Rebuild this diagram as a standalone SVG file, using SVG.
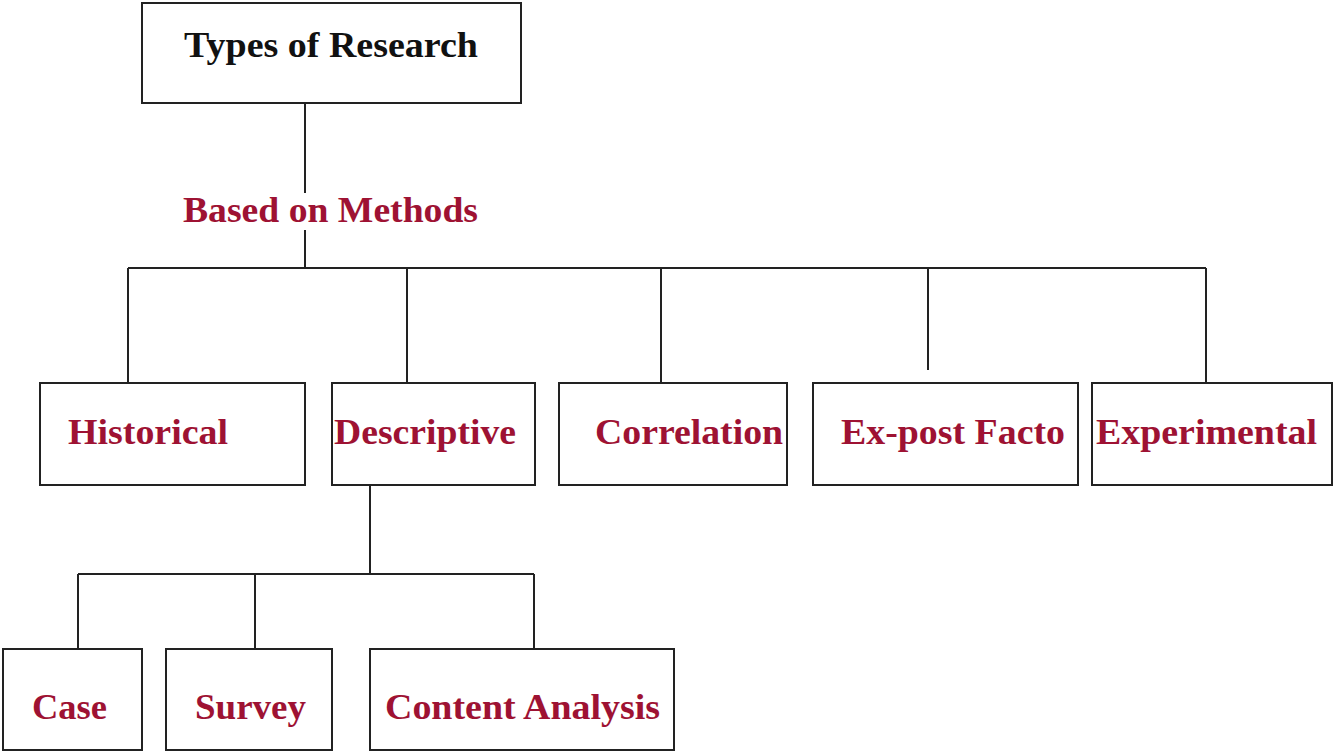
<svg xmlns="http://www.w3.org/2000/svg" width="1333" height="752" viewBox="0 0 1333 752">
<style>
.box{fill:#fff;stroke:#222;stroke-width:2}
.ln{fill:none;stroke:#222;stroke-width:2}
.t{font-family:"Liberation Serif","Times New Roman",serif;font-weight:bold;font-size:36px}
.red{fill:#9e1233}
.blk{fill:#111}
</style>
<rect width="1333" height="752" fill="#fff"/>
<g id="connectors">
<path class="ln" d="M305 103V193M305 230V268M128 268H1206M128 268V383M407 268V383M661 268V383M928 268V370M1206 268V383"/>
<path class="ln" d="M370 486V574M78 574H534M78 574V649M255 574V649M534 574V649"/>
</g>
<g id="types">
<rect class="box" x="142" y="3" width="379" height="100"/>
<text class="t blk" x="184" y="57" textLength="294" lengthAdjust="spacingAndGlyphs">Types of Research</text>
</g>
<g id="based">
<text class="t red" x="183" y="222" textLength="295" lengthAdjust="spacingAndGlyphs">Based on Methods</text>
</g>
<g id="historical">
<rect class="box" x="40" y="383" width="265" height="102"/>
<text class="t red" x="68" y="444" textLength="160" lengthAdjust="spacingAndGlyphs">Historical</text>
</g>
<g id="descriptive">
<rect class="box" x="332" y="383" width="203" height="102"/>
<text class="t red" x="334" y="444" textLength="182" lengthAdjust="spacingAndGlyphs">Descriptive</text>
</g>
<g id="correlation">
<rect class="box" x="559" y="383" width="228" height="102"/>
<text class="t red" x="595" y="444" textLength="188" lengthAdjust="spacingAndGlyphs">Correlation</text>
</g>
<g id="expost">
<rect class="box" x="813" y="383" width="265" height="102"/>
<text class="t red" x="841" y="444" textLength="224" lengthAdjust="spacingAndGlyphs">Ex-post Facto</text>
</g>
<g id="experimental">
<rect class="box" x="1092" y="383" width="240" height="102"/>
<text class="t red" x="1096" y="444" textLength="221" lengthAdjust="spacingAndGlyphs">Experimental</text>
</g>
<g id="case">
<rect class="box" x="3" y="649" width="139" height="101"/>
<text class="t red" x="32" y="719" textLength="75" lengthAdjust="spacingAndGlyphs">Case</text>
</g>
<g id="survey">
<rect class="box" x="166" y="649" width="166" height="101"/>
<text class="t red" x="195" y="719" textLength="111" lengthAdjust="spacingAndGlyphs">Survey</text>
</g>
<g id="content">
<rect class="box" x="370" y="649" width="304" height="101"/>
<text class="t red" x="385" y="719" textLength="275" lengthAdjust="spacingAndGlyphs">Content Analysis</text>
</g>
</svg>
